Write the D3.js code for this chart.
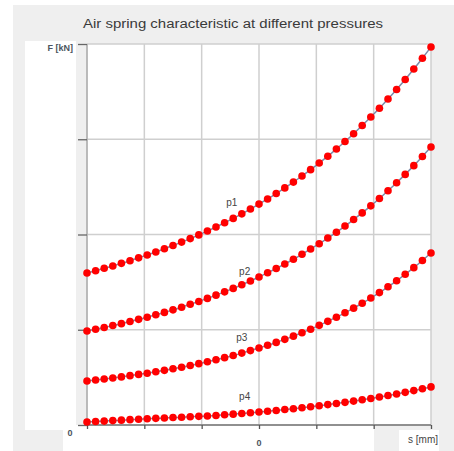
<!DOCTYPE html>
<html>
<head>
<meta charset="utf-8">
<script src="https://cdn.jsdelivr.net/npm/d3@7"></script>
<style>
	body { margin: 0; background: #fff; }
	svg { display: block; }
	text { font-family: 'Liberation Sans', 'DejaVu Sans', sans-serif; }
</style>
</head>
<body>
<div id="chart"></div>
<script>
let width = 454
let height = 451

// s [mm], 41 points
let travel = d3.range(41).map((i) => -60 + i * 3)

let seriesNames = ['p1', 'p2', 'p3', 'p4']

// F [kN]
let p1 = [15.96, 16.20, 16.45, 16.70, 16.97, 17.25, 17.55, 17.85, 18.17, 18.50,
	18.84, 19.20, 19.57, 19.96, 20.37, 20.79, 21.23, 21.69, 22.17, 22.67,
	23.19, 23.73, 24.30, 24.89, 25.50, 26.14, 26.81, 27.50, 28.22, 28.98,
	29.76, 30.58, 31.44, 32.33, 33.25, 34.22, 35.23, 36.27, 37.37, 38.51, 39.69]
let p2 = [9.87, 10.05, 10.24, 10.44, 10.64, 10.86, 11.09, 11.32, 11.57, 11.82,
	12.09, 12.37, 12.67, 12.97, 13.29, 13.63, 13.98, 14.34, 14.73, 15.12,
	15.54, 15.98, 16.43, 16.91, 17.40, 17.92, 18.47, 19.03, 19.63, 20.24,
	20.89, 21.57, 22.27, 23.01, 23.78, 24.59, 25.43, 26.31, 27.23, 28.19, 29.19]
let p3 = [4.62, 4.72, 4.83, 4.94, 5.05, 5.18, 5.31, 5.44, 5.59, 5.74,
	5.90, 6.07, 6.25, 6.44, 6.64, 6.85, 7.07, 7.30, 7.55, 7.81,
	8.08, 8.37, 8.67, 8.99, 9.33, 9.69, 10.06, 10.46, 10.88, 11.32,
	11.78, 12.27, 12.78, 13.33, 13.90, 14.51, 15.14, 15.82, 16.52, 17.27, 18.06]
let p4 = [0.31, 0.36, 0.41, 0.46, 0.51, 0.56, 0.61, 0.66, 0.70, 0.74,
	0.78, 0.82, 0.86, 0.91, 0.95, 1.00, 1.07, 1.14, 1.21, 1.28,
	1.36, 1.44, 1.53, 1.62, 1.71, 1.81, 1.92, 2.02, 2.14, 2.26,
	2.38, 2.51, 2.65, 2.79, 2.94, 3.10, 3.26, 3.43, 3.61, 3.80, 4.00]

let xTicks = [-60, -40, -20, 0, 20, 40, 60]
let yTicks = [0, 10, 20, 30, 40]

let title = 'Air spring characteristic at different pressures'

let series = seriesNames.map((name, i) => {
	return { name: name, values: [p1, p2, p3, p4][i] }
})

// where each curve label sits, in data units
let labelAt = {
	p1: [-9.5, 23.0],
	p2: [-5, 15.8],
	p3: [-6, 8.8],
	p4: [-5, 2.6],
}

let plot = { left: 87, right: 431, top: 44, bottom: 425 }

let xScale = d3.scaleLinear()
	.domain([-60, 60])
	.range([plot.left, plot.right])

let yScale = d3.scaleLinear()
	.domain([0, 40])
	.range([plot.bottom, plot.top])

let svg = d3.select('#chart').append('svg')
	.attr('width', width)
	.attr('height', height)

// panels behind the chart
let bg = svg.append('g')
bg.append('rect')
	.attr('x', 13).attr('y', 5)
	.attr('width', width - 13).attr('height', height - 5)
	.attr('fill', '#efefef')
bg.append('rect')
	.attr('x', 25).attr('y', 41)
	.attr('width', 51).attr('height', 389)
	.attr('fill', '#fff')
bg.append('rect')
	.attr('x', 63).attr('y', plot.bottom)
	.attr('width', 311).attr('height', height - plot.bottom)
	.attr('fill', '#fff')
bg.append('rect')
	.attr('x', 399).attr('y', 430)
	.attr('width', 40).attr('height', height - 430)
	.attr('fill', '#fff')
bg.append('rect')
	.attr('x', plot.left).attr('y', plot.top)
	.attr('width', plot.right - plot.left).attr('height', plot.bottom - plot.top)
	.attr('fill', '#fff')

svg.append('text')
	.text(title)
	.attr('x', 233)
	.attr('y', 28)
	.attr('text-anchor', 'middle')
	.attr('font-size', 12)
	.attr('fill', '#3a3a3a')
	.attr('textLength', 300)
	.attr('lengthAdjust', 'spacingAndGlyphs')

// grid
let grid = svg.append('g')
grid.selectAll('.vgrid')
	.data(xTicks)
	.enter()
	.append('line')
	.attr('x1', (d) => xScale(d))
	.attr('x2', (d) => xScale(d))
	.attr('y1', plot.top)
	.attr('y2', plot.bottom)
	.attr('stroke', '#cfcfcf')
	.attr('stroke-width', 1.5)
grid.selectAll('.hgrid')
	.data(yTicks)
	.enter()
	.append('line')
	.attr('x1', plot.left)
	.attr('x2', plot.right)
	.attr('y1', (d) => yScale(d))
	.attr('y2', (d) => yScale(d))
	.attr('stroke', '#cfcfcf')
	.attr('stroke-width', 1.5)

// axes
let xAxis = d3.axisBottom(xScale)
	.tickValues(xTicks)
	.tickSize(4)
	.tickFormat('')
let yAxis = d3.axisLeft(yScale)
	.tickValues(yTicks)
	.tickSize(9)
	.tickFormat('')

let xAxisG = svg.append('g')
	.attr('transform', `translate(0,${plot.bottom})`)
	.call(xAxis)
let yAxisG = svg.append('g')
	.attr('transform', `translate(${plot.left},0)`)
	.call(yAxis)

xAxisG.select('.domain').attr('d', `M${plot.left},0H${plot.right}`).attr('stroke', '#777').attr('stroke-width', 1.3)
yAxisG.select('.domain').attr('d', `M0,${plot.top}V${plot.bottom}`).attr('stroke', '#aaa').attr('stroke-width', 1.3)
xAxisG.selectAll('.tick line').attr('stroke', '#555').attr('stroke-width', 1.3)
yAxisG.selectAll('.tick line').attr('stroke', '#666').attr('stroke-width', 1.3)

let axisLabels = svg.append('g')
axisLabels.append('text')
	.text('F [kN]')
	.attr('x', 73)
	.attr('y', 51)
	.attr('text-anchor', 'end')
	.attr('font-size', 9)
	.attr('font-weight', 'bold')
	.attr('fill', '#4d5560')
axisLabels.append('text')
	.text('0')
	.attr('x', 70)
	.attr('y', 436)
	.attr('text-anchor', 'middle')
	.attr('font-size', 9)
	.attr('font-weight', 'bold')
	.attr('fill', '#4d5560')
axisLabels.append('text')
	.text('0')
	.attr('x', xScale(0))
	.attr('y', 446)
	.attr('text-anchor', 'middle')
	.attr('font-size', 9)
	.attr('font-weight', 'bold')
	.attr('fill', '#4d5560')
axisLabels.append('text')
	.text('s [mm]')
	.attr('x', 438)
	.attr('y', 443)
	.attr('text-anchor', 'end')
	.attr('font-size', 10)
	.attr('fill', '#444')

// curves
let line = d3.line()
	.x((d, i) => xScale(travel[i]))
	.y((d) => yScale(d))
	.curve(d3.curveMonotoneX)

let marks = svg.append('g')

series.forEach((s) => {
	let g = marks.append('g')
	g.append('path')
		.datum(s.values)
		.attr('d', line)
		.attr('fill', 'none')
		.attr('stroke', '#7d8aa8')
		.attr('stroke-width', 1.5)
	g.selectAll('circle')
		.data(s.values)
		.enter()
		.append('circle')
		.attr('cx', (d, i) => xScale(travel[i]))
		.attr('cy', (d) => yScale(d))
		.attr('r', 3.8)
		.attr('fill', '#ff0000')
	g.append('text')
		.text(s.name)
		.attr('x', xScale(labelAt[s.name][0]))
		.attr('y', yScale(labelAt[s.name][1]))
		.attr('text-anchor', 'middle')
		.attr('font-size', 10)
		.attr('fill', '#444')
})
</script>
</body>
</html>
